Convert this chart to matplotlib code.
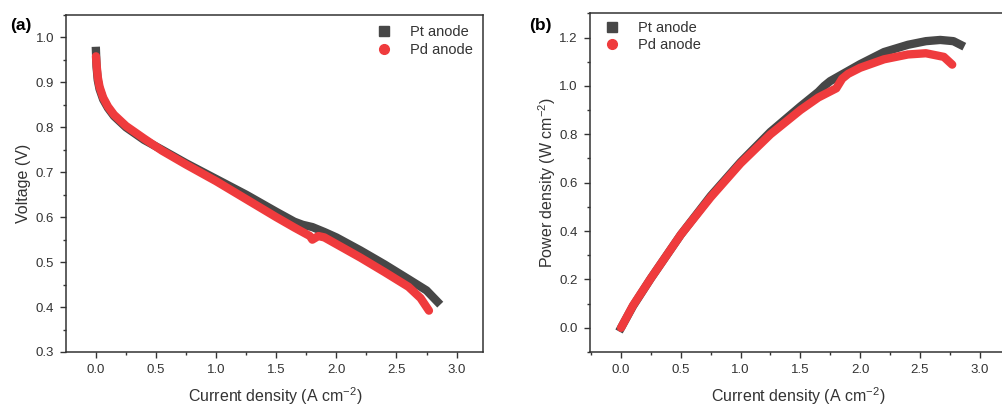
import matplotlib
matplotlib.use("Agg")
import matplotlib.pyplot as plt
from matplotlib.lines import Line2D
from matplotlib.ticker import MultipleLocator

plt.rcParams['font.family'] = ['Liberation Sans', 'DejaVu Sans']
plt.rcParams['mathtext.fontset'] = 'custom'
plt.rcParams['mathtext.rm'] = 'Liberation Sans'
plt.rcParams['mathtext.default'] = 'regular'

# (a) polarization curves
pt_j = [0, 0.005, 0.015, 0.03, 0.06, 0.1, 0.15, 0.25, 0.4, 0.55, 0.75, 1.0, 1.25, 1.5,
        1.65, 1.72, 1.8, 1.9, 2.0, 2.2, 2.4, 2.6, 2.75, 2.84]
pt_v = [0.97, 0.935, 0.905, 0.885, 0.862, 0.843, 0.825, 0.8, 0.772, 0.75, 0.72, 0.685,
        0.65, 0.612, 0.59, 0.583, 0.578, 0.567, 0.555, 0.526, 0.495, 0.462, 0.437, 0.412]
pd_j = [0, 0.005, 0.015, 0.03, 0.06, 0.1, 0.15, 0.25, 0.4, 0.55, 0.75, 1.0, 1.25, 1.5,
        1.65, 1.78, 1.8, 1.85, 1.9, 2.0, 2.2, 2.4, 2.6, 2.7, 2.77]
pd_v = [0.958, 0.94, 0.912, 0.89, 0.866, 0.846, 0.828, 0.803, 0.775, 0.748, 0.717, 0.68,
        0.64, 0.6, 0.577, 0.558, 0.55, 0.558, 0.555, 0.54, 0.51, 0.478, 0.445, 0.42, 0.392]

# (b) power density curves
pt_pj = [0, 0.1, 0.25, 0.5, 0.75, 1.0, 1.25, 1.5, 1.65, 1.7, 1.75, 2.0, 2.2,
         2.4, 2.55, 2.67, 2.78, 2.84]
pt_p = [0, 0.09, 0.205, 0.385, 0.545, 0.685, 0.81, 0.915, 0.975, 1.0, 1.02, 1.09, 1.14,
        1.17, 1.185, 1.19, 1.185, 1.17]
pd_pj = [0, 0.1, 0.25, 0.5, 0.75, 1.0, 1.25, 1.5, 1.65, 1.8, 1.85, 1.9, 2.0, 2.2,
         2.4, 2.55, 2.7, 2.77]
pd_p = [0.0, 0.092, 0.205, 0.385, 0.54, 0.68, 0.8, 0.9, 0.952, 0.99, 1.03, 1.05, 1.075,
        1.11, 1.13, 1.135, 1.12, 1.088]

dark = '#474747'
red = '#ef3b3d'
txt = '#333333'

fig = plt.figure(figsize=(10.03, 4.08), dpi=100)
ax1 = fig.add_axes([0.0663, 0.1373, 0.4153, 0.826])
ax2 = fig.add_axes([0.5882, 0.1373, 0.4148, 0.830])


def style(ax, ymin, ymax, ymaj, ymin_tick, xmin):
    ax.set_xlim(xmin, 3.22)
    ax.set_ylim(ymin, ymax)
    ax.xaxis.set_major_locator(MultipleLocator(0.5))
    ax.xaxis.set_minor_locator(MultipleLocator(0.25))
    ax.yaxis.set_major_locator(MultipleLocator(ymaj))
    ax.yaxis.set_minor_locator(MultipleLocator(ymin_tick))
    ax.tick_params(which='major', direction='out', length=4, width=1, colors=txt,
                   labelsize=9.5, pad=5)
    ax.tick_params(which='minor', direction='out', length=2.5, width=1, colors=txt)
    for s in ax.spines.values():
        s.set_linewidth(1.1)
        s.set_color(txt)
    ax.set_xlabel('Current density (A cm$^{-2}$)', fontsize=11.5, color=txt, labelpad=6)


# panel a
ax1.plot(pt_j, pt_v, color=dark, lw=6, solid_capstyle='projecting')
ax1.plot(pd_j, pd_v, color=red, lw=6, solid_capstyle='round')
style(ax1, 0.3, 1.05, 0.1, 0.05, -0.245)
ax1.set_ylabel('Voltage (V)', fontsize=11.5, color=txt, labelpad=3)

# panel b
ax2.plot(pt_pj, pt_p, color=dark, lw=6, solid_capstyle='projecting')
ax2.plot(pd_pj, pd_p, color=red, lw=6, solid_capstyle='round')
style(ax2, -0.1, 1.3, 0.2, 0.1, -0.26)
ax2.set_ylabel('Power density (W cm$^{-2}$)', fontsize=11.5, color=txt, labelpad=1)

handles = [Line2D([], [], color=dark, marker='s', ls='none', markersize=7),
           Line2D([], [], color=red, marker='o', ls='none', markersize=7)]
labels = ['Pt anode', 'Pd anode']
ax1.legend(handles, labels, loc='upper right', frameon=False, fontsize=10.5,
           handletextpad=0.8, labelspacing=0.25, borderaxespad=0.3, labelcolor=txt)
ax2.legend(handles, labels, loc='upper left', frameon=False, fontsize=10.5,
           handletextpad=0.8, labelspacing=0.25, borderaxespad=0.1, labelcolor=txt)

fig.text(0.010, 0.955, '(a)', fontsize=12.5, fontweight='bold', va='top')
fig.text(0.528, 0.955, '(b)', fontsize=12.5, fontweight='bold', va='top')

fig.savefig('out.png', dpi=100)
